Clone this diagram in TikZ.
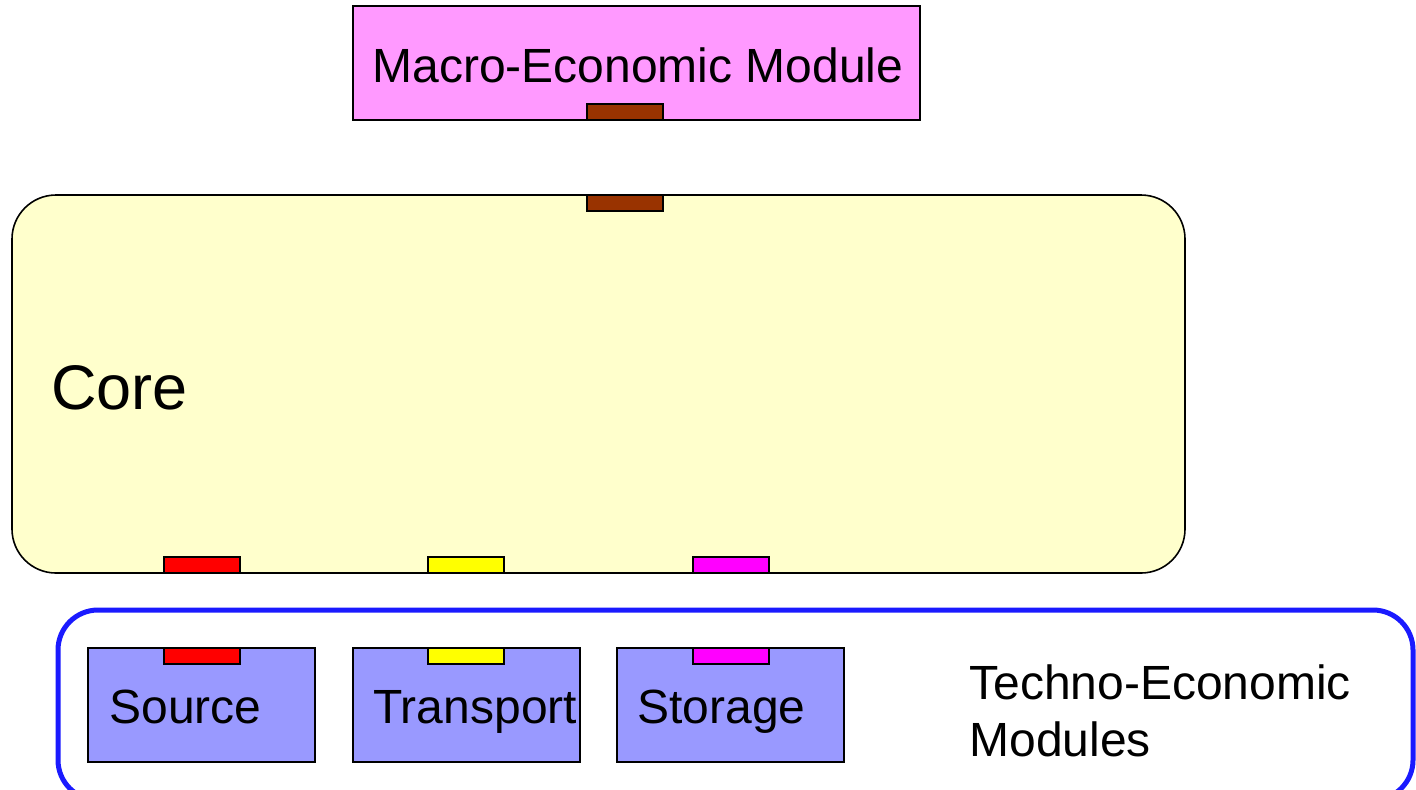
\documentclass[tikz,border=0pt]{standalone}
\usepackage{fontspec}
\setmainfont{Liberation Sans}
\definecolor{macropink}{HTML}{FF99FF}
\definecolor{portbrown}{HTML}{993300}
\definecolor{corefill}{HTML}{FFFFCC}
\definecolor{modfill}{HTML}{9999FF}
\definecolor{techblue}{HTML}{1A1AFF}
\definecolor{portmagenta}{HTML}{FF00FF}
\definecolor{portyellow}{HTML}{FFFF00}
\definecolor{portred}{HTML}{FF0000}

\begin{document}
\begin{tikzpicture}[x=0.5pt,y=-0.5pt,
	port/.style={draw=black, line width=1pt},
	label/.style={font=\fontsize{24}{28.5}\selectfont, anchor=base west, inner sep=0pt}]
		\useasboundingbox (0,0) rectangle (1416,789);
		%%%%%%%%%%%%%
		\filldraw[fill = macropink, draw = black, line width=0.8pt] (353, 6) rectangle (920, 120);
		\filldraw[fill = corefill, draw = black, line width=0.8pt, rounded corners=22pt] (12, 195) rectangle (1185, 573);
		\draw[techblue, line width=2.5pt, rounded corners=20pt] (58, 610) rectangle (1413, 800);
		\filldraw[fill = modfill, draw = black, line width=0.8pt] (88, 648) rectangle (315, 762);
		\filldraw[fill = modfill, draw = black, line width=0.8pt] (353, 648) rectangle (580, 762);
		\filldraw[fill = modfill, draw = black, line width=0.8pt] (617, 648) rectangle (844, 762);
		%%%%%%%%%%%%%
		\filldraw[port, fill = portbrown] (587, 104) rectangle (663, 120);
		\filldraw[port, fill = portbrown] (587, 195) rectangle (663, 211);
		\filldraw[port, fill = portred] (164, 557) rectangle (240, 573);
		\filldraw[port, fill = portyellow] (428, 557) rectangle (504, 573);
		\filldraw[port, fill = portmagenta] (693, 557) rectangle (769, 573);
		\filldraw[port, fill = portred] (164, 648) rectangle (240, 664);
		\filldraw[port, fill = portyellow] (428, 648) rectangle (504, 664);
		\filldraw[port, fill = portmagenta] (693, 648) rectangle (769, 664);
		%%%%%%%%%%%%%
		\node[label, anchor=center] (macro) at (638, 65) {Macro-Economic Module};
		\node[label, anchor=west, font=\fontsize{31.5}{36}\selectfont] (core) at (51, 388) {Core};
		\node[label] (src) at (109, 723) {Source};
		\node[label] (trans) at (373, 723) {Transport};
		\node[label] (stor) at (637, 723) {Storage};
		\node[label, anchor=west, align=left] (tech) at (969, 711) {Techno-Economic\\Modules};
	\end{tikzpicture}
\end{document}
